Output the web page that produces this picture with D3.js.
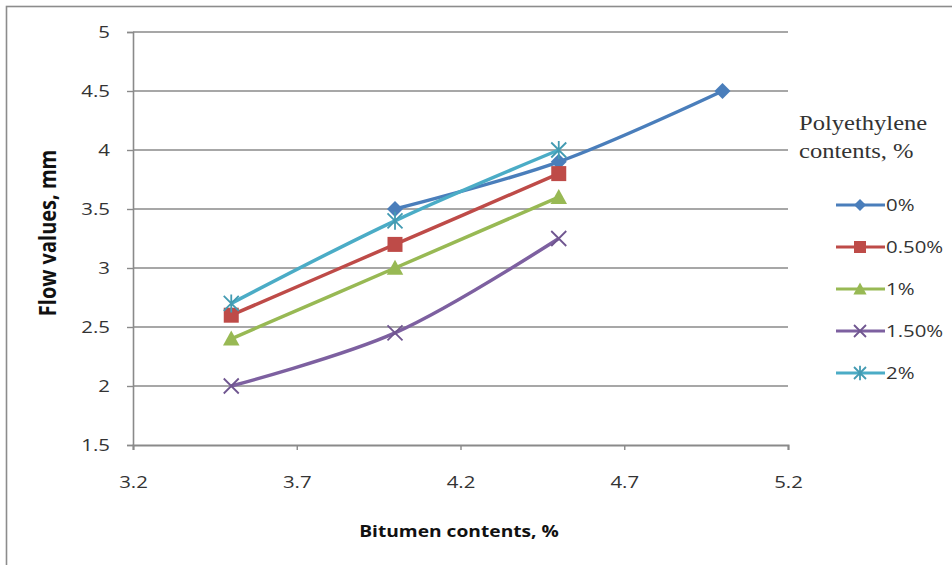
<!DOCTYPE html>
<html>
<head>
<meta charset="utf-8">
<script src="https://cdn.jsdelivr.net/npm/d3@7"></script>
<style>
body { margin: 0; background: #fff; }
svg { display: block; }
</style>
</head>
<body>
<svg id="chart" width="952" height="565"></svg>
<script>
// ---- data ----
const seriesNames = ["0%", "0.50%", "1%", "1.50%", "2%"];
const xValues0 = [4.0, 4.5, 5.0];
const yValues0 = [3.5, 3.9, 4.5];
const xValuesOther = [3.5, 4.0, 4.5];
const yValues05 = [2.6, 3.2, 3.8];
const yValues1 = [2.4, 3.0, 3.6];
const yValues15 = [2.0, 2.45, 3.25];
const yValues2 = [2.7, 3.4, 4.0];
const xTicks = [3.2, 3.7, 4.2, 4.7, 5.2];
const yTicks = [1.5, 2, 2.5, 3, 3.5, 4, 4.5, 5];
const xTitle = "Bitumen contents, %";
const yTitle = "Flow values, mm";
const legendTitle = ["Polyethylene", "contents, %"];

(function () {
const colors = ["#4A7EBB", "#BE4B48", "#98B954", "#7D60A0", "#4BACC6"];
const shapes = ["diamond", "square", "triangle", "x", "star"];
const SX = 1.2; // horizontal stretch of the text in the picture
const SANS = "'Open Sans', 'Liberation Sans', sans-serif";

const series = [
  { name: seriesNames[0], xs: xValues0, ys: yValues0 },
  { name: seriesNames[1], xs: xValuesOther, ys: yValues05 },
  { name: seriesNames[2], xs: xValuesOther, ys: yValues1 },
  { name: seriesNames[3], xs: xValuesOther, ys: yValues15 },
  { name: seriesNames[4], xs: xValuesOther, ys: yValues2 }
].map((s, i) => ({ ...s, color: colors[i], shape: shapes[i], pts: s.xs.map((x, j) => [x, s.ys[j]]) }));

const svg = d3.select("#chart");

// outer frame
svg.append("rect").attr("x", 6.5).attr("y", 6.5).attr("width", 960).attr("height", 600)
  .attr("fill", "none").attr("stroke", "#8c8c8c").attr("stroke-width", 1.6);

const pLeft = 133, pRight = 788, pTop = 32, pBottom = 445;
const x = d3.scaleLinear().domain([3.2, 5.2]).range([pLeft, pRight]);
const y = d3.scaleLinear().domain([1.5, 5]).range([pBottom, pTop]);

// grid
svg.append("g").selectAll("line").data(yTicks.filter(t => t > 1.5)).join("line")
  .attr("x1", pLeft).attr("x2", pRight)
  .attr("y1", d => y(d)).attr("y2", d => y(d))
  .attr("stroke", "#8a8a8a").attr("stroke-width", 1.5);

// y axis
const yAxis = svg.append("g").attr("transform", `translate(${pLeft},0)`)
  .call(d3.axisLeft(y).tickValues(yTicks).tickSize(6).tickFormat(d3.format("")));
yAxis.select(".domain").attr("stroke", "#8a8a8a").attr("stroke-width", 1.6);
yAxis.selectAll(".tick line").attr("stroke", "#8a8a8a").attr("stroke-width", 1.4);
yAxis.selectAll("text").attr("font-family", SANS).attr("font-size", 17).attr("fill", "#333")
  .attr("x", 0).attr("transform", `translate(-23,0) scale(${SX},1)`);

// x axis
const xAxis = svg.append("g").attr("transform", `translate(0,${pBottom})`)
  .call(d3.axisBottom(x).tickValues(xTicks).tickSize(5).tickFormat(d3.format(".1f")));
xAxis.select(".domain").attr("stroke", "#8a8a8a").attr("stroke-width", 2);
xAxis.selectAll(".tick line").attr("stroke", "#8a8a8a").attr("stroke-width", 1.4);
xAxis.selectAll("text").attr("font-family", SANS).attr("font-size", 17).attr("fill", "#333")
  .attr("y", 43).attr("dy", null).attr("transform", `scale(${SX},1)`);

// axis titles
svg.append("text").attr("transform", `translate(459,537) scale(${SX},1)`).attr("text-anchor", "middle")
  .attr("font-family", SANS).attr("font-weight", "bold")
  .attr("font-size", 16).attr("fill", "#111").text(xTitle);
svg.append("text").attr("transform", `translate(56,233) scale(${SX},1) rotate(-90)`).attr("text-anchor", "middle")
  .attr("font-family", SANS).attr("font-weight", "bold")
  .attr("font-size", 20).attr("fill", "#111").text(yTitle);

// marker drawer
function drawMarker(g, shape, color, s) {
  if (shape === "diamond") {
    g.append("path").attr("d", `M0,${-s}L${s},0L0,${s}L${-s},0Z`).attr("fill", color);
  } else if (shape === "square") {
    g.append("rect").attr("x", -s).attr("y", -s).attr("width", 2 * s).attr("height", 2 * s).attr("fill", color);
  } else if (shape === "triangle") {
    g.append("path").attr("d", `M0,${-s * 1.1}L${s * 1.1},${s * 0.9}L${-s * 1.1},${s * 0.9}Z`).attr("fill", color);
  } else if (shape === "x") {
    g.append("path").attr("d", `M${-s},${-s}L${s},${s}M${-s},${s}L${s},${-s}`)
      .attr("stroke", color).attr("stroke-width", 1.8).attr("fill", "none");
  } else if (shape === "star") {
    g.append("path").attr("d", `M${-s},${-s}L${s},${s}M${-s},${s}L${s},${-s}M0,${-s * 1.2}L0,${s * 1.2}`)
      .attr("stroke", color).attr("stroke-width", 1.8).attr("fill", "none");
  }
}
const markerColor = s => (s.shape === "x" || s.shape === "star") ? d3.color(s.color).darker(0.3) : s.color;
const markerSize = { diamond: 8, square: 7.5, triangle: 7.5, x: 7.5, star: 7.5 };

const line = d3.line().x(d => x(d[0])).y(d => y(d[1])).curve(d3.curveCatmullRom.alpha(0.5));

const plot = svg.append("g");
series.forEach(s => {
  plot.append("path").datum(s.pts).attr("d", line)
    .attr("fill", "none").attr("stroke", s.color).attr("stroke-width", 3.5);
});
series.forEach(s => {
  s.pts.forEach(p => {
    const g = plot.append("g").attr("transform", `translate(${x(p[0])},${y(p[1])})`);
    drawMarker(g, s.shape, markerColor(s), markerSize[s.shape]);
  });
});

// legend
svg.append("g").attr("transform", `translate(799,0) scale(1.17,1)`)
  .append("text").attr("font-family", "'Liberation Serif', 'Times New Roman', serif")
  .attr("font-size", 21).attr("fill", "#333")
  .selectAll("tspan").data(legendTitle).join("tspan")
  .attr("x", 0).attr("y", (d, i) => 130 + i * 28).text(d => d);

const lg = svg.append("g");
series.forEach((s, i) => {
  const yy = 205 + i * 42;
  lg.append("line").attr("x1", 836).attr("x2", 885).attr("y1", yy).attr("y2", yy)
    .attr("stroke", s.color).attr("stroke-width", 3);
  const g = lg.append("g").attr("transform", `translate(860,${yy})`);
  drawMarker(g, s.shape, markerColor(s), 6);
  lg.append("text").attr("transform", `translate(886,${yy + 6}) scale(${SX},1)`)
    .attr("font-family", SANS).attr("font-size", 17)
    .attr("fill", "#333").text(s.name);
});
})();
</script>
</body>
</html>
